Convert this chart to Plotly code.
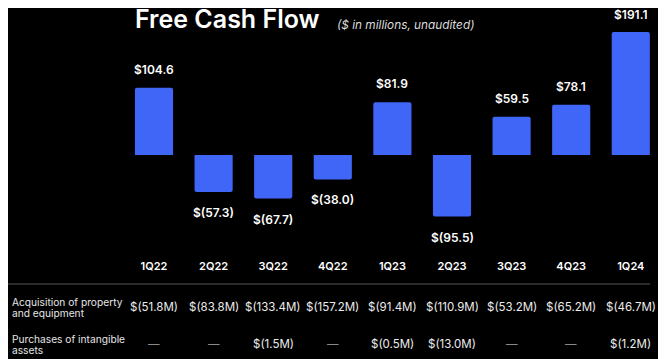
import plotly.graph_objects as go

quarters = ["1Q22", "2Q22", "3Q22", "4Q22", "1Q23", "2Q23", "3Q23", "4Q23", "1Q24"]
fcf = [104.6, -57.3, -67.7, -38.0, 81.9, -95.5, 59.5, 78.1, 191.1]
acq_ppe = [51.8, 83.8, 133.4, 157.2, 91.4, 110.9, 53.2, 65.2, 46.7]
intangibles = [None, None, 1.5, None, 0.5, 13.0, None, None, 1.2]
row_labels = [["Acquisition of property", "and equipment"],
              ["Purchases of intangible", "assets"]]

OFF = 8                      # page body margin
W, H = 666 - OFF, 359 - OFF
FONT = "Inter"
BAR = "#4066F7"

plot_bottom = 258 - OFF      # in figure pixels
zero_px = 155 - OFF
scale = 0.644                # px per $M
slot = 59.6
c0 = 154 - OFF


def px(x):
    return (x - OFF) / W


def py(y):
    return (plot_bottom - (y - OFF)) / plot_bottom


def money(v):
    return f"${v:.1f}" if v >= 0 else f"$({abs(v):.1f})"


def mm(v):
    return "—" if v is None else f"$({v:.1f}M)"


fig = go.Figure()
fig.add_trace(go.Bar(
    x=quarters, y=fcf, marker=dict(color=BAR, line_width=0, cornerradius=2),
    width=0.64, hoverinfo="skip",
))

ann = []
for q, v in zip(quarters, fcf):
    ann.append(dict(x=q, y=v, xref="x", yref="y", text=money(v), showarrow=False,
                    yshift=(19 if v < 180 else 18) if v >= 0 else -20,
                    height=12, borderpad=0,
                    font=dict(family=FONT, size=12, color="#ffffff", weight=600)))

rows = [acq_ppe, intangibles]
row_y = [307, 344]
for lines, vals, ry in zip(row_labels, rows, row_y):
    for k, line in enumerate(lines):
        ann.append(dict(x=px(10), y=py(ry - 5.5 + 11 * k), xref="paper", yref="paper",
                        text=line, showarrow=False, xanchor="left", yanchor="middle",
                        font=dict(family=FONT, size=10.2, color="#e6e6e6")))
    for q, v in zip(quarters, vals):
        ann.append(dict(x=q, y=py(ry), xref="x", yref="paper", text=mm(v), showarrow=False,
                        yanchor="middle",
                        font=dict(family=FONT, size=11.5,
                                  color="#8a8a8a" if v is None else "#ececec")))

ann.append(dict(x=px(134), y=py(19), xref="paper", yref="paper", text="Free Cash Flow",
                showarrow=False, xanchor="left", yanchor="middle", height=20, borderpad=0,
                font=dict(family=FONT, size=25, color="#ffffff", weight=600)))
ann.append(dict(x=px(335), y=py(25), xref="paper", yref="paper",
                text="<i>($ in millions, unaudited)</i>",
                showarrow=False, xanchor="left", yanchor="middle",
                font=dict(family=FONT, size=11.8, color="#dcdcdc")))

ymax = zero_px / scale
ymin = -(plot_bottom - zero_px) / scale
xmin = -c0 / slot
xmax = (W - c0) / slot

fig.update_layout(
    width=W, height=H,
    margin=dict(l=0, r=0, t=0, b=H - plot_bottom),
    paper_bgcolor="#000000", plot_bgcolor="#000000",
    showlegend=False,
    annotations=ann,
    shapes=[dict(type="line", xref="paper", yref="paper", x0=px(8), x1=px(650),
                 y0=py(284), y1=py(284), line=dict(color="#555555", width=1))],
    xaxis=dict(range=[xmin, xmax], showgrid=False, zeroline=False, showline=False,
               ticks="", tickfont=dict(family=FONT, size=11, color="#ffffff", weight=600),
               fixedrange=True),
    yaxis=dict(range=[ymin, ymax], showgrid=False, zeroline=False, showline=False,
               showticklabels=False, fixedrange=True),
)

fig.write_html("out.html")
